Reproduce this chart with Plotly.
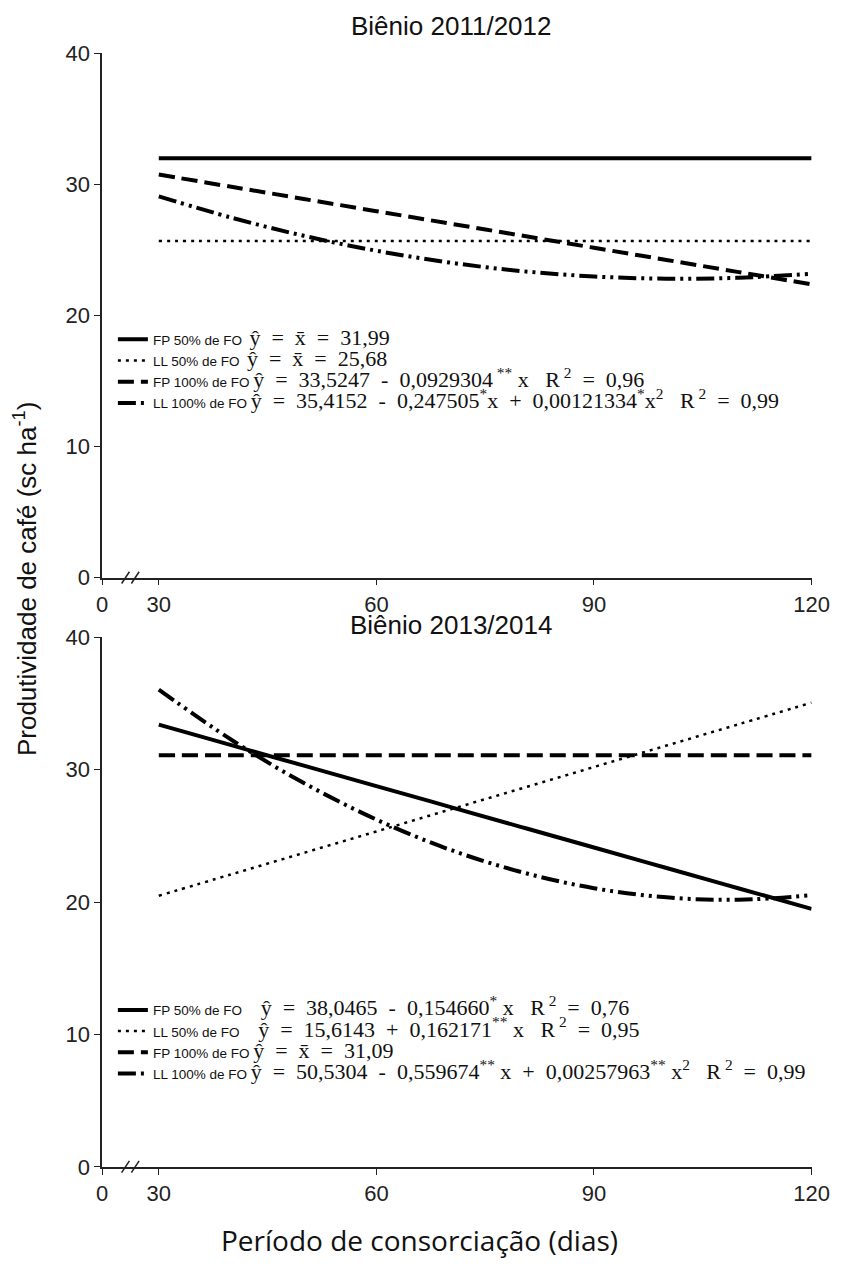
import plotly.graph_objects as go

# ---------------- data ----------------
X_DAYS = [30, 40, 50, 60, 70, 80, 90, 100, 110, 120]

top_fp50 = [31.99, 31.99, 31.99, 31.99, 31.99, 31.99, 31.99, 31.99, 31.99, 31.99]
top_ll50 = [25.68, 25.68, 25.68, 25.68, 25.68, 25.68, 25.68, 25.68, 25.68, 25.68]
top_fp100 = [30.74, 29.81, 28.88, 27.95, 27.02, 26.09, 25.16, 24.23, 23.30, 22.37]
top_ll100 = [29.08, 27.46, 26.07, 24.93, 24.04, 23.38, 22.97, 22.80, 22.87, 23.18]

bot_fp50 = [33.41, 31.86, 30.31, 28.77, 27.22, 25.67, 24.13, 22.58, 21.03, 19.49]
bot_ll50 = [20.48, 22.10, 23.72, 25.34, 26.97, 28.59, 30.21, 31.83, 33.45, 35.07]
bot_fp100 = [31.09, 31.09, 31.09, 31.09, 31.09, 31.09, 31.09, 31.09, 31.09, 31.09]
bot_ll100 = [36.06, 32.27, 29.00, 26.24, 23.99, 22.27, 21.05, 20.36, 20.18, 20.52]

series_labels = ["FP 50% de FO", "LL 50% de FO", "FP 100% de FO", "LL 100% de FO"]

NB = "\u00a0"
S = NB + " "          # wide operator spacing
YH = "\u0177"
XB = "x\u0304"
top_eqs = [
    f"{YH}{S}={S}{XB}{S}={S}31,99",
    f"{YH}{S}={S}{XB}{S}={S}25,68",
    f"{YH}{S}={S}33,5247{S}-{S}0,0929304<sup> **</sup> x{NB}{NB}{NB}R<sup> 2</sup>{S}={S}0,96",
    f"{YH}{S}={S}35,4152{S}-{S}0,247505<sup>*</sup>x{S}+{S}0,00121334<sup>*</sup>x<sup>2</sup>"
    f"{NB}{NB}{NB}R<sup> 2</sup>{S}={S}0,99",
]
bot_eqs = [
    f"{YH}{S}={S}38,0465{S}-{S}0,154660<sup>*</sup> x{NB}{NB}{NB}R<sup> 2</sup>{S}={S}0,76",
    f"{YH}{S}={S}15,6143{S}+{S}0,162171<sup>**</sup> x{NB}{NB}{NB}R<sup> 2</sup>{S}={S}0,95",
    f"{YH}{S}={S}{XB}{S}={S}31,09",
    f"{YH}{S}={S}50,5304{S}-{S}0,559674<sup>**</sup> x{S}+{S}0,00257963<sup>**</sup> x<sup>2</sup>"
    f"{NB}{NB}{NB}R<sup> 2</sup>{S}={S}0,99",
]
top_pad = [2, 2, 1, 1]
bot_pad = [5, 5, 1, 1]

x_tickvals = [22.2, 30, 60, 90, 120]
x_ticktext = ["0", "30", "60", "90", "120"]
y_tickvals = [0, 10, 20, 30, 40]

# ---------------- layout geometry (pixels) ----------------
W, H = 850, 1270
X_LEFT, X_RIGHT = 99, 829
TOP_Y40, TOP_Y0 = 42, 577
BOT_Y40, BOT_Y0 = 638, 1178

styles = [
    dict(width=4, dash="solid"),
    dict(width=2.5, dash="3px,5px"),
    dict(width=4, dash="16px,7px"),
    dict(width=4, dash="18px,5px,3px,5px,3px,5px"),
]


def px_x(p):
    return p / W


def px_y(p):
    return 1 - p / H


def name_for(label, pad, eq):
    return (f"<span style=\"font-family:Liberation Sans;font-size:13.5px\">"
            f"{label}{NB * pad}</span>"
            f"<span style=\"font-family:Liberation Serif;font-size:22px\">{eq}</span>")


fig = go.Figure()

for vals, st, lab, pad, eq in zip([top_fp50, top_ll50, top_fp100, top_ll100], styles,
                                  series_labels, top_pad, top_eqs):
    fig.add_trace(go.Scatter(x=X_DAYS, y=vals, mode="lines", xaxis="x", yaxis="y",
                             line=dict(color="black", width=st["width"], dash=st["dash"],
                                       shape="spline"),
                             name=name_for(lab, pad, eq), legend="legend"))

for vals, st, lab, pad, eq in zip([bot_fp50, bot_ll50, bot_fp100, bot_ll100], styles,
                                  series_labels, bot_pad, bot_eqs):
    fig.add_trace(go.Scatter(x=X_DAYS, y=vals, mode="lines", xaxis="x2", yaxis="y2",
                             line=dict(color="black", width=st["width"], dash=st["dash"],
                                       shape="spline"),
                             name=name_for(lab, pad, eq), legend="legend2"))

axis_common = dict(showline=True, linecolor="#222", linewidth=1.5, ticks="outside",
                   ticklen=6, tickwidth=1.3, tickcolor="#222", showgrid=False,
                   zeroline=False, tickfont=dict(family="Liberation Sans", size=22,
                                                 color="#222"))

xdom = [px_x(X_LEFT), px_x(X_RIGHT)]
legend_common = dict(xanchor="left", yanchor="top", bgcolor="rgba(0,0,0,0)",
                     font=dict(family="Liberation Sans", size=14, color="#111"),
                     traceorder="normal")
fig.update_layout(
    width=W, height=H,
    margin=dict(l=0, r=0, t=0, b=0),
    paper_bgcolor="white", plot_bgcolor="white",
    xaxis=dict(domain=xdom, range=[22.2, 120], tickvals=x_tickvals, ticktext=x_ticktext,
               anchor="y", **axis_common),
    yaxis=dict(domain=[px_y(TOP_Y0), px_y(TOP_Y40)], range=[0, 40], tickvals=y_tickvals,
               anchor="x", **axis_common),
    xaxis2=dict(domain=xdom, range=[22.2, 120], tickvals=x_tickvals, ticktext=x_ticktext,
                anchor="y2", **axis_common),
    yaxis2=dict(domain=[px_y(BOT_Y0), px_y(BOT_Y40)], range=[0, 40], tickvals=y_tickvals,
                anchor="x2", **axis_common),
    legend=dict(x=px_x(110), y=px_y(318), **legend_common),
    legend2=dict(x=px_x(110), y=px_y(1002), **legend_common),
    showlegend=True,
)

annotations = [
    dict(text="Biênio 2011/2012", x=px_x(458), y=px_y(14), xref="paper", yref="paper",
         yanchor="middle", showarrow=False,
         font=dict(family="Liberation Sans", size=26, color="#111")),
    dict(text="Biênio 2013/2014", x=px_x(458), y=px_y(625), xref="paper", yref="paper",
         yanchor="middle", showarrow=False,
         font=dict(family="Liberation Sans", size=26, color="#111")),
    dict(text="Produtividade de café (sc ha<sup>-1</sup>)", x=px_x(20), y=px_y(578),
         xref="paper", yref="paper", showarrow=False, textangle=-90,
         xanchor="center", yanchor="middle",
         font=dict(family="Liberation Sans", size=26, color="#111")),
    dict(text="Período de consorciação (dias)", x=px_x(426), y=px_y(1253), xref="paper",
         yref="paper", yanchor="middle", showarrow=False,
         font=dict(family="Open Sans", size=28, color="#111")),
]
fig.update_layout(annotations=annotations)

shapes = []
for axis_y in (TOP_Y0, BOT_Y0):
    for x0 in (119, 129):
        shapes.append(dict(type="line", xref="paper", yref="paper",
                           x0=px_x(x0), y0=px_y(axis_y + 6), x1=px_x(x0 + 8),
                           y1=px_y(axis_y - 6), line=dict(color="#222", width=1.5)))
fig.update_layout(shapes=shapes)

fig.write_html("out.html")
